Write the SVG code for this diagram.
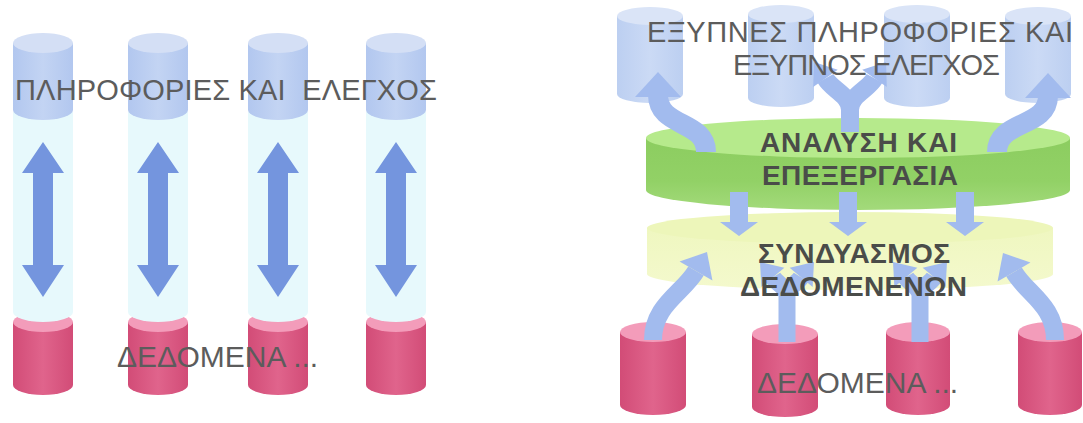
<svg xmlns="http://www.w3.org/2000/svg" xmlns:xlink="http://www.w3.org/1999/xlink" width="1083" height="423" viewBox="0 0 1083 423">
<style>
.bb{fill:url(#gBlue)}
.bt{fill:#d4dff5}
.pb{fill:url(#gBlueP)}
.pt{fill:#dae4f7}
.rb{fill:url(#gRed)}
.rt{fill:#f39cba}
.tube{fill:#e7f9fc}
.la{fill:#7495de}
.ra{fill:#a2bbee}
.rs{fill:none;stroke:#a2bbee}
.t{font-family:"Liberation Sans",Arial,sans-serif;fill:#5c5c5c;white-space:pre}
.tb{font-family:"Liberation Sans",Arial,sans-serif;font-weight:bold;fill:#4a4c49}
</style>
<defs>
<linearGradient id="gBlue" x1="0" y1="0" x2="1" y2="0">
<stop offset="0" stop-color="#b2c7ef"/><stop offset="0.5" stop-color="#c3d4f3"/><stop offset="1" stop-color="#b2c7ef"/>
</linearGradient>
<linearGradient id="gBlueP" x1="0" y1="0" x2="1" y2="0">
<stop offset="0" stop-color="#bccff1"/><stop offset="0.5" stop-color="#cbdaf5"/><stop offset="1" stop-color="#bccff1"/>
</linearGradient>
<linearGradient id="gRed" x1="0" y1="0" x2="1" y2="0">
<stop offset="0" stop-color="#d24c77"/><stop offset="0.5" stop-color="#e0648c"/><stop offset="1" stop-color="#d24c77"/>
</linearGradient>
<linearGradient id="gGreenSide" x1="0" y1="0" x2="0" y2="1">
<stop offset="0" stop-color="#8ccd60"/><stop offset="0.6" stop-color="#92d166"/><stop offset="1" stop-color="#a3da7b"/>
</linearGradient>
<linearGradient id="gYelSide" x1="0" y1="0" x2="0" y2="1">
<stop offset="0" stop-color="#eff7c0"/><stop offset="1" stop-color="#f4f9cd"/>
</linearGradient>
<path id="hdL" d="M0,0 L23,25 L-23,25 Z"/>
<path id="hdM" d="M0,0 L19,22 L-19,22 Z"/>
<path id="hdS" d="M0,0 L15,20 L-15,20 Z"/>
</defs>
<rect width="1083" height="423" fill="#ffffff"/>

<!-- LEFT PANEL -->
<g id="col1">
<path class="rb" d="M13,322 L13,385 A30,10 0 0 0 73,385 L73,322 Z"/><ellipse class="rt" cx="43" cy="322" rx="30" ry="10"/>
<path class="tube" d="M13,112 L13,312 A30,10 0 0 0 73,312 L73,112 Z"/>
<path class="bb" d="M13,43 L13,110 A30,10 0 0 0 73,110 L73,43 Z"/><ellipse class="bt" cx="43" cy="43" rx="30" ry="10"/>
</g>
<g id="col2">
<path class="rb" d="M128,322 L128,385 A30,10 0 0 0 188,385 L188,322 Z"/><ellipse class="rt" cx="158" cy="322" rx="30" ry="10"/>
<path class="tube" d="M128,112 L128,312 A30,10 0 0 0 188,312 L188,112 Z"/>
<path class="bb" d="M128,43 L128,110 A30,10 0 0 0 188,110 L188,43 Z"/><ellipse class="bt" cx="158" cy="43" rx="30" ry="10"/>
</g>
<g id="col3">
<path class="rb" d="M248,322 L248,385 A30,10 0 0 0 308,385 L308,322 Z"/><ellipse class="rt" cx="278" cy="322" rx="30" ry="10"/>
<path class="tube" d="M248,112 L248,312 A30,10 0 0 0 308,312 L308,112 Z"/>
<path class="bb" d="M248,43 L248,110 A30,10 0 0 0 308,110 L308,43 Z"/><ellipse class="bt" cx="278" cy="43" rx="30" ry="10"/>
</g>
<g id="col4">
<path class="rb" d="M366,322 L366,385 A30,10 0 0 0 426,385 L426,322 Z"/><ellipse class="rt" cx="396" cy="322" rx="30" ry="10"/>
<path class="tube" d="M366,112 L366,312 A30,10 0 0 0 426,312 L426,112 Z"/>
<path class="bb" d="M366,43 L366,110 A30,10 0 0 0 426,110 L426,43 Z"/><ellipse class="bt" cx="396" cy="43" rx="30" ry="10"/>
</g>
<g id="left-connectors">
<polygon class="la" points="43,142 64,173 53,173 53,265 64,265 43,297 22,265 33,265 33,173 22,173"/>
<polygon class="la" points="158,142 179,173 168,173 168,265 179,265 158,297 137,265 148,265 148,173 137,173"/>
<polygon class="la" points="278,142 299,173 288,173 288,265 299,265 278,297 257,265 268,265 268,173 257,173"/>
<polygon class="la" points="396,142 417,173 406,173 406,265 417,265 396,297 375,265 386,265 386,173 375,173"/>
</g>
<g id="left-labels">
<text class="t" x="15" y="100" font-size="29" textLength="422">ΠΛΗΡΟΦΟΡΙΕΣ ΚΑΙ  ΕΛΕΓΧΟΣ</text>
<text class="t" x="117" y="367" font-size="30">ΔΕΔΟΜΕΝΑ ...</text>
</g>

<!-- RIGHT PANEL -->
<g id="info1"><path class="pb" d="M617,16 L617,94 A33,9 0 0 0 683,94 L683,16 Z"/><ellipse class="pt" cx="650" cy="16" rx="33" ry="9"/></g>
<g id="info2"><path class="pb" d="M748,14 L748,98 A33,9 0 0 0 814,98 L814,14 Z"/><ellipse class="pt" cx="781" cy="14" rx="33" ry="9"/></g>
<g id="info3"><path class="pb" d="M884,14 L884,98 A33,9 0 0 0 950,98 L950,14 Z"/><ellipse class="pt" cx="917" cy="14" rx="33" ry="9"/></g>
<g id="info4"><path class="pb" d="M1005,16 L1005,94 A33,9 0 0 0 1071,94 L1071,16 Z"/><ellipse class="pt" cx="1038" cy="16" rx="33" ry="9"/></g>

<g id="data1"><path class="rb" d="M620,332 L620,405 A33,10 0 0 0 686,405 L686,332 Z"/><ellipse class="rt" cx="653" cy="332" rx="33" ry="10"/></g>
<g id="data2"><path class="rb" d="M752,334 L752,407 A33,10 0 0 0 818,407 L818,334 Z"/><ellipse class="rt" cx="785" cy="334" rx="33" ry="10"/></g>
<g id="data3"><path class="rb" d="M886,332 L886,405 A32,10 0 0 0 950,405 L950,332 Z"/><ellipse class="rt" cx="918" cy="332" rx="32" ry="10"/></g>
<g id="data4"><path class="rb" d="M1018,332 L1018,405 A32,10 0 0 0 1082,405 L1082,332 Z"/><ellipse class="rt" cx="1050" cy="332" rx="32" ry="10"/></g>

<g id="fusion">
<path fill="url(#gYelSide)" d="M647,228 L647,274 A203,16 0 0 0 1053,274 L1053,228 Z"/>
<ellipse cx="850" cy="228" rx="203" ry="16" fill="#edf6ba"/>
</g>
<g id="analysis">
<path fill="url(#gGreenSide)" d="M646,138 L646,190 A212,20 0 0 0 1070,190 L1070,138 Z"/>
<ellipse cx="858" cy="138" rx="212" ry="20" fill="#b6ea8c"/>
</g>

<g id="right-connectors">
<path class="rs" stroke-width="20" d="M706,152 C706,120 658,128 658,95"/><use class="ra" xlink:href="#hdL" transform="translate(658,72)"/>
<path class="rs" stroke-width="20" d="M997,152 C997,120 1048,128 1048,96"/><use class="ra" xlink:href="#hdL" transform="translate(1048,73)"/>
<path class="rs" stroke-width="18" d="M850,132 L850,110 C850,95 832,90 825.5,78.4 M850,110 C850,95 868,90 874.5,78.4"/>
<use class="ra" xlink:href="#hdS" transform="translate(814,62) rotate(-35)"/>
<use class="ra" xlink:href="#hdS" transform="translate(886,62) rotate(35)"/>
<polygon class="ra" points="730,192 748,192 748,222 758,222 739,236 720,222 730,222"/>
<polygon class="ra" points="839,192 857,192 857,222 867,222 848,236 829,222 839,222"/>
<polygon class="ra" points="956,192 974,192 974,222 984,222 965,236 946,222 956,222"/>
<path class="rs" stroke-width="18" d="M653,340 C653,305 683,293 696,271"/><use class="ra" xlink:href="#hdM" transform="translate(707,252) rotate(30)"/>
<path class="rs" stroke-width="18" d="M1055,340 C1055,305 1027,294 1014,272"/><use class="ra" xlink:href="#hdM" transform="translate(1003,253) rotate(-30)"/>
<path class="rs" stroke-width="17" d="M787,342 L787,296 C787,287 777,284 772.9,277.3 M787,296 C787,287 797,284 801.1,277.3"/>
<use class="ra" xlink:href="#hdS" transform="translate(760,262) rotate(-40)"/>
<use class="ra" xlink:href="#hdS" transform="translate(814,262) rotate(40)"/>
<path class="rs" stroke-width="17" d="M920,342 L920,296 C920,287 910,284 905.9,277.3 M920,296 C920,287 930,284 934.1,277.3"/>
<use class="ra" xlink:href="#hdS" transform="translate(893,262) rotate(-40)"/>
<use class="ra" xlink:href="#hdS" transform="translate(947,262) rotate(40)"/>
</g>

<g id="right-labels">
<text class="t" x="647" y="42" font-size="29" textLength="426">ΕΞΥΠΝΕΣ ΠΛΗΡΟΦΟΡΙΕΣ ΚΑΙ</text>
<text class="t" x="733" y="75" font-size="29" textLength="267">ΕΞΥΠΝΟΣ ΕΛΕΓΧΟΣ</text>
<text class="tb" x="760" y="152" font-size="28" textLength="197">ΑΝΑΛΥΣΗ ΚΑΙ</text>
<text class="tb" x="762" y="185" font-size="28" textLength="196">ΕΠΕΞΕΡΓΑΣΙΑ</text>
<text class="tb" x="758" y="263" font-size="28" textLength="192">ΣΥΝΔΥΑΣΜΟΣ</text>
<text class="tb" x="740" y="296" font-size="28" textLength="227">ΔΕΔΟΜΕΝΕΝΩΝ</text>
<text class="t" x="757" y="393" font-size="30">ΔΕΔΟΜΕΝΑ ...</text>
</g>
</svg>
